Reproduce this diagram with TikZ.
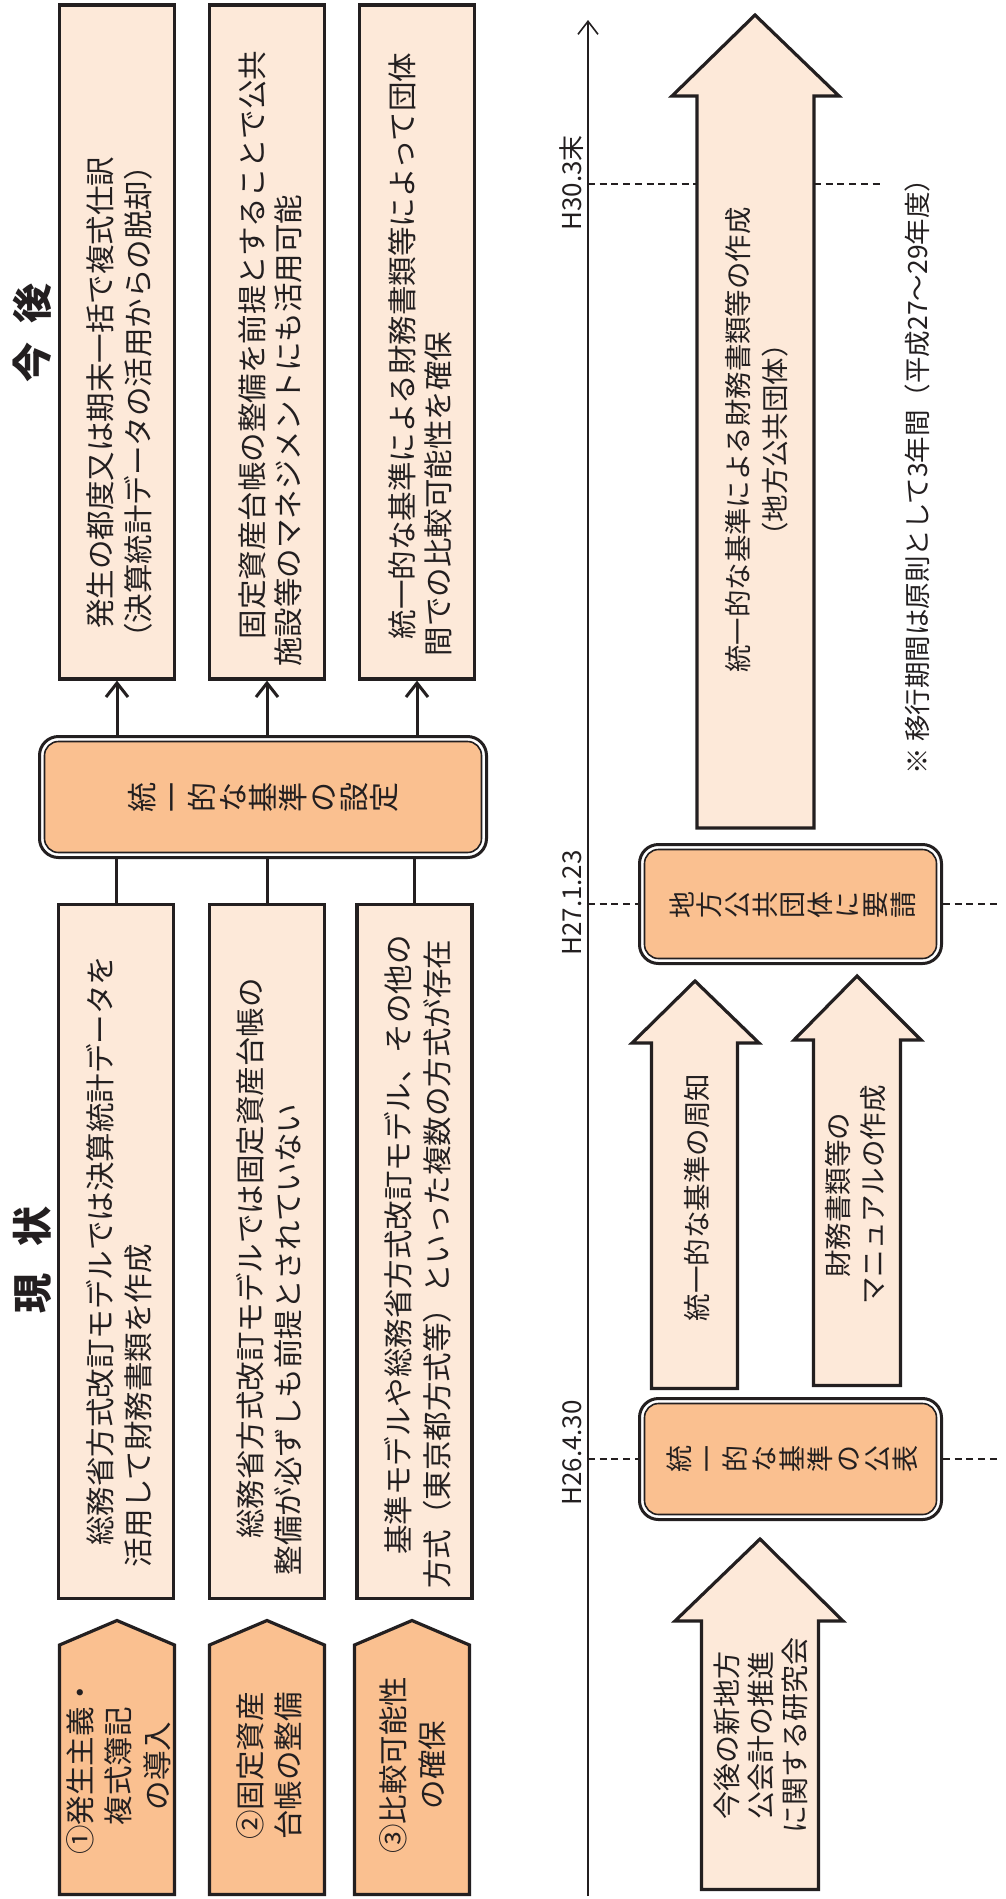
\documentclass[tikz,border=0pt]{standalone}
\usepackage{fontspec}
\setmainfont{Noto Sans CJK JP}
\usetikzlibrary{arrows.meta}
\definecolor{ink}{HTML}{231F20}
\definecolor{lightpeach}{HTML}{FDE9D9}
\definecolor{orng}{HTML}{FAC090}
\newcommand{\fs}[2]{\fontsize{#1}{#2}\selectfont}
\newcommand{\vcharrow}[6]{%
  \foreach \ch [count=\i from 0] in {#6} {\node[vch, font=\fs{#5}{#5}, text height={0.88*#5pt}, text depth={0.12*#5pt}] (#1\i) at ({#2+\i*#4}, #3) {\ch};}}
\begin{document}
\begin{tikzpicture}[x=1pt,y=-1pt,
  every node/.style={text=ink},
  txt/.style={rotate=90, inner sep=0pt, font=\fs{29.5}{38.5}, align=center},
  vch/.style={rotate=90, inner sep=0pt},
  lbox/.style={draw=ink, line width=3.2pt, fill=lightpeach, inner sep=0pt},
  obox/.style={draw=ink, line width=3pt, fill=white, rounded corners=19pt, inner sep=0pt},
  ibox/.style={draw=ink, line width=1.6pt, fill=orng, rounded corners=14pt, inner sep=0pt},
  blk/.style={draw=ink, line width=3.2pt, fill=lightpeach, line join=miter},
  pent/.style={draw=ink, line width=3.2pt, fill=orng, line join=miter},
  conn/.style={draw=ink, line width=3pt},
  tip/.style={-{Straight Barb[length=14pt,width=22pt]}},
  dsh/.style={draw=ink, line width=1.5pt, dash pattern=on 7pt off 4.7pt},
  title/.style={rotate=90, inner sep=0pt, font=\fs{40}{40}\bfseries, text height=35.2pt, text depth=4.8pt},
  lab/.style={rotate=90, inner sep=0pt, font=\fs{26}{26}}]
\fill[white] (0,0) rectangle (1005,1899);
\useasboundingbox (0,0) rectangle (1005,1899);

% ---------- titles
\node[title] (tk1) at (32,362) {今};
\node[title] (tk2) at (32,303) {後};
\node[title] (tg1) at (32,1293) {現};
\node[title] (tg2) at (32,1226) {状};

% ---------- top boxes (今後)
\node[lbox, minimum width=115pt, minimum height=674pt] (t1) at (117,342) {};
\node[lbox, minimum width=115pt, minimum height=674pt] (t2) at (267,342) {};
\node[lbox, minimum width=115pt, minimum height=674pt] (t3) at (417,342) {};
\node[txt] (t1a) at (100,392.5) {発生の都度又は期末一括で複式仕訳};
\node[txt] (t1b) at (138,402) {（決算統計データの活用からの脱却）};
\node[txt] (t2a) at (252,345) {固定資産台帳の整備を前提とすることで公共};
\node[txt] (t2b) at (288,430.5) {施設等のマネジメントにも活用可能};
\node[txt] (t3a) at (402,346) {統一的な基準による財務書類等によって団体};
\node[txt] (t3b) at (438,494) {間での比較可能性を確保};

% ---------- centre box
\node[obox, minimum width=447pt, minimum height=121pt] (cset) at (263,797) {};
\node[ibox, minimum width=437pt, minimum height=111pt] (cseti) at (cset.center) {};
\vcharrow{cs}{142}{797}{30.25}{30}{統,一,的,な,基,準,の,設,定}

% ---------- bottom boxes (現状)
\node[lbox, minimum width=115pt, minimum height=694pt] (b1) at (116,1251.5) {};
\node[lbox, minimum width=115pt, minimum height=694pt] (b2) at (267,1251.5) {};
\node[lbox, minimum width=115pt, minimum height=694pt] (b3) at (414.5,1251.5) {};
\node[txt] (b1a) at (100,1250.5) {総務省方式改訂モデルでは決算統計データを};
\node[txt] (b1b) at (138,1406) {活用して財務書類を作成};
\node[txt] (b2a) at (250,1258.5) {総務省方式改訂モデルでは固定資産台帳の};
\node[txt] (b2b) at (288,1339.5) {整備が必ずしも前提とされていない};
\node[txt] (b3a) at (398,1245) {基準モデルや総務省方式改訂モデル、その他の};
\node[txt] (b3b) at (437,1264) {方式（東京都方式等）といった複数の方式が存在};

% ---------- connectors
\draw[conn, tip] (cset.north -| t1) -- (t1.south);
\draw[conn, tip] (cset.north -| t2) -- (t2.south);
\draw[conn, tip] (cset.north -| t3) -- (t3.south);
\draw[conn] (b1.north) -- (b1.north |- cset.south);
\draw[conn] (b2.north) -- (b2.north |- cset.south);
\draw[conn] (b3.north) -- (b3.north |- cset.south);

% ---------- pentagons
\draw[pent] (59.5,1894.5) -- (59.5,1645) -- (117,1620.5) -- (174.5,1645) -- (174.5,1894.5) -- cycle;
\draw[pent] (209.5,1894.5) -- (209.5,1645) -- (267,1620.5) -- (324.5,1645) -- (324.5,1894.5) -- cycle;
\draw[pent] (354.5,1894.5) -- (354.5,1645) -- (412,1620.5) -- (469.5,1645) -- (469.5,1894.5) -- cycle;
\node[txt] (p1) at (118.5,1766) {①発生主義・\\複式簿記\\の導入};
\node[txt] (p2) at (269,1766) {②固定資産\\台帳の整備};
\node[txt] (p3) at (412.5,1765) {③比較可能性\\の確保};

% ---------- timeline
\coordinate (axT) at (588,20);
\coordinate (axB) at (588,1896);
\coordinate (edgeR) at (1000,0);
\draw[ink, line width=1.6pt, -{Straight Barb[length=13pt,width=20pt]}] (axB) -- (axT);

% big arrow (top)
\draw[blk] (697,828) -- (697,96) -- (672,96) -- (755,15) -- (839,96) -- (814,96) -- (814,828) -- cycle;
\coordinate (bigL) at (697,184);
\coordinate (bigR) at (814,184);
\node[txt, font=\fs{27.4}{37}] (big) at (756.5,440) {統一的な基準による財務書類等の作成\\（地方公共団体）};

% request box
\node[obox, minimum width=302pt, minimum height=119pt] (req) at (790.5,904) {};
\node[ibox, minimum width=292pt, minimum height=109pt] (reqi) at (req.center) {};
\vcharrow{rq}{682}{905}{27.6}{27}{地,方,公,共,団,体,に,要,請}

% two arrows
\draw[blk] (651.5,1388.5) -- (651.5,1043) -- (632,1043) -- (695,981) -- (759,1043) -- (737.5,1043) -- (737.5,1388.5) -- cycle;
\draw[blk] (813.5,1385.5) -- (813.5,1040) -- (794,1040) -- (857,976) -- (921,1040) -- (900.5,1040) -- (900.5,1385.5) -- cycle;
\node[txt, font=\fs{27.5}{35}] (sh) at (697,1197.5) {統一的な基準の周知};
\node[txt, font=\fs{27.5}{35}] (mn) at (855.5,1195) {財務書類等の\\マニュアルの作成};

% publish box
\node[obox, minimum width=302pt, minimum height=121pt] (pub) at (790.5,1459) {};
\node[ibox, minimum width=292pt, minimum height=111pt] (pubi) at (pub.center) {};
\vcharrow{pb}{679}{1459}{28.25}{27}{統,一,的,な,基,準,の,公,表}

% bottom arrow
\draw[blk] (701.5,1889.5) -- (701.5,1621) -- (675,1621) -- (760,1539) -- (843,1621) -- (818.5,1621) -- (818.5,1889.5) -- cycle;
\node[txt, font=\fs{28}{34}] (ken) at (761,1735) {今後の新地方\\公会計の推進\\に関する研究会};

% ---------- dashed date lines and labels
\coordinate (d1R) at (880,184);
\draw[dsh] (axT |- bigL) -- (bigL);
\draw[dsh] (bigR) -- (d1R);
\draw[dsh] (axT |- req.west) -- (req.west);
\draw[dsh] (req.east) -- (req.east -| edgeR);
\draw[dsh] (axT |- pub.west) -- (pub.west);
\draw[dsh] (pub.east) -- (pub.east -| edgeR);
\node[lab] (l1) at (572,183) {H30.3末};
\node[lab] (l2) at (572,903) {H27.1.23};
\node[lab] (l3) at (572,1453) {H26.4.30};

% note
\node[lab, font=\fs{26.5}{26.5}] (note) at (917,470) {※ 移行期間は原則として3年間（平成27～29年度）};
\end{tikzpicture}
\end{document}
